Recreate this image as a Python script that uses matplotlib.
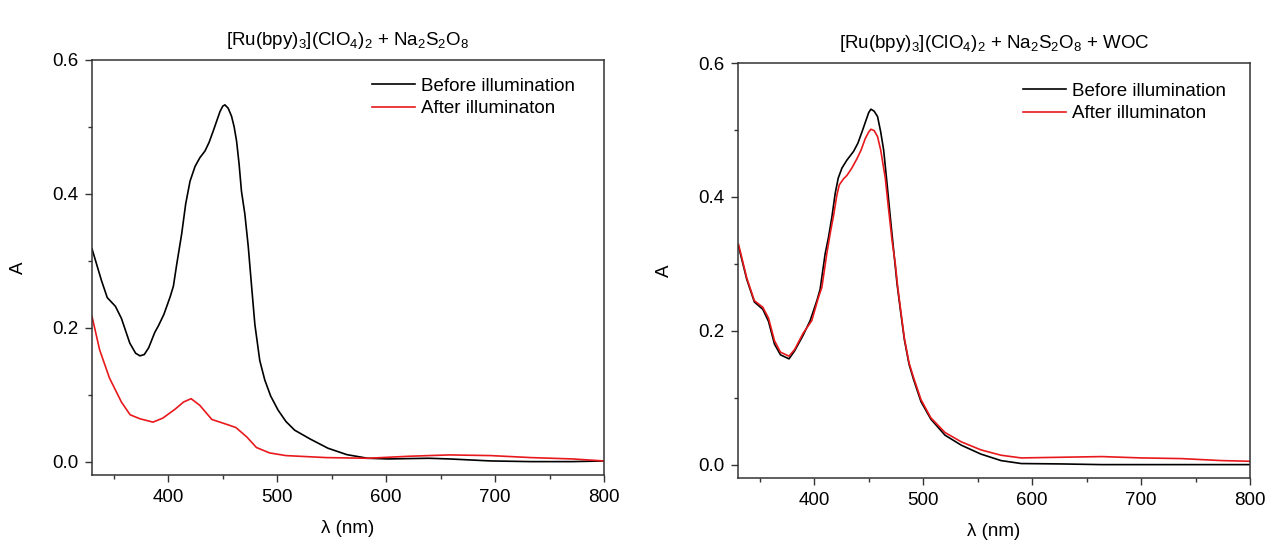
import matplotlib
matplotlib.use("Agg")
import matplotlib.pyplot as plt

plt.rcParams['font.family'] = ['Liberation Sans', 'DejaVu Sans']
plt.rcParams['mathtext.fontset'] = 'custom'
plt.rcParams['mathtext.rm'] = 'Liberation Sans'
plt.rcParams['mathtext.it'] = 'Liberation Sans'

# ---- Left panel data ----
left_before_x = [330, 338.6, 344, 351.5, 357, 364.7, 370, 374, 378, 382, 387.6, 391, 396, 401.7, 404.7,
                 407.8, 412.3, 416, 420, 424.6, 429, 433.7, 437.5, 441.3, 444.5, 447.5, 450, 452, 455,
                 458.1, 460.5, 462.7, 465, 467.2, 470.3, 473.4, 476.5, 479.5, 484, 488.6, 494, 500.8,
                 508, 516, 530, 546.6, 564, 583, 602, 639, 658, 696, 733, 771, 800]
left_before_y = [0.318, 0.271, 0.245, 0.232, 0.214, 0.177, 0.162, 0.158, 0.160, 0.170, 0.193, 0.203,
                 0.220, 0.246, 0.262, 0.295, 0.340, 0.385, 0.419, 0.441, 0.454, 0.464, 0.477, 0.494,
                 0.509, 0.523, 0.531, 0.533, 0.528, 0.516, 0.500, 0.479, 0.445, 0.404, 0.370, 0.322,
                 0.262, 0.205, 0.151, 0.122, 0.098, 0.077, 0.060, 0.047, 0.034, 0.020, 0.0104, 0.005,
                 0.004, 0.005, 0.004, 0.001, 0.0, 0.0, 0.001]

left_after_x = [330, 337, 346, 357, 365, 374, 386, 395, 406, 414, 421, 429, 440, 453, 462, 472, 481,
                493, 508, 545, 583, 621, 658, 696, 733, 771, 800]
left_after_y = [0.217, 0.167, 0.125, 0.089, 0.070, 0.064, 0.059, 0.065, 0.078, 0.089, 0.094, 0.084,
                0.063, 0.056, 0.051, 0.037, 0.021, 0.013, 0.009, 0.006, 0.005, 0.008, 0.010, 0.009,
                0.006, 0.004, 0.001]

# ---- Right panel data ----
right_before_x = [330.5, 338, 345, 352.8, 358, 363.5, 369, 376.8, 382, 389.7, 396.2, 402.4, 405.4, 410,
                  413.1, 416.2, 419.2, 422, 425.4, 430, 436.1, 440, 443.8, 447, 450, 452, 455, 458.1,
                  461, 463.7, 466.5, 469.8, 473, 476, 479, 482.7, 487, 491, 498, 507, 520, 535, 553,
                  571.5, 590, 627, 664, 700, 737, 774, 800]
right_before_y = [0.326, 0.277, 0.243, 0.232, 0.214, 0.180, 0.164, 0.158, 0.170, 0.193, 0.215, 0.245,
                  0.262, 0.315, 0.340, 0.370, 0.405, 0.428, 0.443, 0.455, 0.468, 0.480, 0.497, 0.512,
                  0.526, 0.531, 0.528, 0.520, 0.497, 0.470, 0.425, 0.370, 0.318, 0.270, 0.232, 0.187,
                  0.150, 0.128, 0.094, 0.068, 0.044, 0.029, 0.0157, 0.006, 0.0016, 0.001, 0.0, 0.0,
                  0.0, 0.0, 0.0]

right_after_x = [330.5, 338, 345, 352.8, 358, 363.5, 369, 376.8, 382, 389.7, 397.7, 403.9, 407, 411.5,
                 414.6, 417.7, 420.8, 423, 426.9, 430, 434.5, 439.2, 443, 446.8, 450, 452, 455, 458.1,
                 461, 463.5, 465.2, 468, 471.4, 474.4, 476.5, 479, 482.7, 487, 491, 498, 507, 520, 535,
                 553, 571.5, 590, 627, 664, 700, 737, 774, 800]
right_after_y = [0.329, 0.279, 0.245, 0.235, 0.219, 0.185, 0.168, 0.162, 0.172, 0.196, 0.215, 0.250,
                 0.265, 0.315, 0.345, 0.372, 0.403, 0.418, 0.427, 0.432, 0.443, 0.457, 0.470, 0.487,
                 0.497, 0.501, 0.499, 0.490, 0.470, 0.445, 0.428, 0.385, 0.335, 0.300, 0.267, 0.235,
                 0.189, 0.152, 0.131, 0.097, 0.070, 0.048, 0.034, 0.022, 0.014, 0.010, 0.011, 0.012,
                 0.010, 0.009, 0.006, 0.005]

titles = [r'[Ru(bpy)$_3$](ClO$_4$)$_2$ + Na$_2$S$_2$O$_8$',
          r'[Ru(bpy)$_3$](ClO$_4$)$_2$ + Na$_2$S$_2$O$_8$ + WOC']
legend_labels = ['Before illumination', 'After illuminaton']
x_ticks = [400, 500, 600, 700, 800]
y_ticks = [0.0, 0.2, 0.4, 0.6]

fig = plt.figure(figsize=(12.68, 5.48), dpi=100)
ax1 = fig.add_axes([92/1268, 1-475/548, (604-92)/1268, (475-60)/548])
ax2 = fig.add_axes([738/1268, 1-478/548, (1250-738)/1268, (478-63)/548])

red = '#e8191c'
ax1.plot(left_before_x, left_before_y, color='black', lw=1.2, label=legend_labels[0])
ax1.plot(left_after_x, left_after_y, color=red, lw=1.2, label=legend_labels[1])
ax2.plot(right_before_x, right_before_y, color='black', lw=1.2, label=legend_labels[0])
ax2.plot(right_after_x, right_after_y, color=red, lw=1.2, label=legend_labels[1])

legend_anchor = [(0.547, 0.958), (0.557, 0.953)]
for ax, t, anc in zip([ax1, ax2], titles, legend_anchor):
    ax.set_xlim(330, 800)
    ax.set_ylim(-0.02, 0.6)
    ax.set_xticks(x_ticks)
    ax.set_xticks([350, 450, 550, 650, 750], minor=True)
    ax.set_yticks(y_ticks)
    ax.set_yticks([0.1, 0.3, 0.5], minor=True)
    ax.set_yticklabels(['0.0', '0.2', '0.4', '0.6'])
    ax.tick_params(direction='out', length=5, width=1, labelsize=13.5, color='#333333', pad=5)
    ax.tick_params(which='minor', direction='out', length=3, width=1, color='#333333')
    for s in ax.spines.values():
        s.set_color('#333333')
        s.set_linewidth(1.1)
    ax.set_xlabel('λ (nm)', fontsize=13.5, labelpad=10)
    ax.set_ylabel('A', fontsize=13.5, labelpad=18)
    ax.set_title(t, fontsize=13.5, pad=11)
    ax.legend(loc='upper left', bbox_to_anchor=anc, frameon=False, fontsize=13.5,
              handlelength=2.3, handletextpad=0.3, labelspacing=0.3, borderpad=0,
              borderaxespad=0)

fig.savefig('out.png', dpi=100)
